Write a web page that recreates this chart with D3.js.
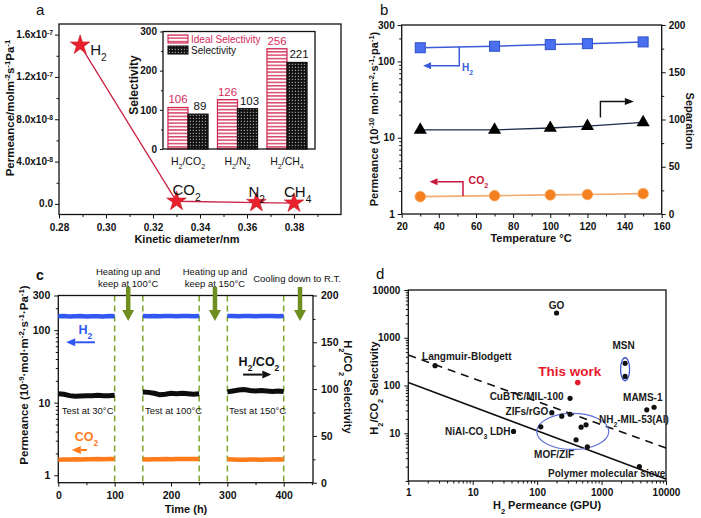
<!DOCTYPE html>
<html><head><meta charset="utf-8">
<script src="https://cdn.jsdelivr.net/npm/d3@7/dist/d3.min.js"></script>
<style>html,body{margin:0;padding:0;background:#fff;}svg{display:block;}</style>
</head><body>
<svg id="chart" width="701" height="518"></svg>
<script>
// ================= DATA =================
// (a) single gas permeance vs kinetic diameter
const aGas = ["H_{2}", "CO_{2}", "N_{2}", "CH_{4}"];
const aDiameter = [0.289, 0.33, 0.364, 0.38];
const aPermeance = [1.5e-7, 2.5e-9, 1.3e-9, 8e-10];
const aXTicks = [0.28, 0.30, 0.32, 0.34, 0.36, 0.38];
const aYTicks = [0, 4e-8, 8e-8, 1.2e-7, 1.6e-7];
const aYTickMant = ["0.0", "4.0x10", "8.0x10", "1.2x10", "1.6x10"];
const aYTickExp = ["", "-8", "-8", "-7", "-7"];
// (a) inset
const insetPairs = ["H_{2}/CO_{2}", "H_{2}/N_{2}", "H_{2}/CH_{4}"];
const insetSeries = ["Ideal Selectivity", "Selectivity"];
const insetIdeal = [106, 126, 256];
const insetMeasured = [89, 103, 221];
const insetTicks = [0, 100, 200, 300];
// (b) temperature dependence
const bTemp = [30, 70, 100, 120, 150];
const bH2 = [151, 158, 166, 171, 180];
const bCO2 = [1.69, 1.74, 1.78, 1.80, 1.85];
const bSep = [89, 89, 91, 93, 97];
const bXTicks = [20, 40, 60, 80, 100, 120, 140, 160];
const bYTicks = [1, 10, 100, 300];
const bY2Ticks = [0, 50, 100, 150, 200];
// (c) long-term stability
const cTime = [
  [0, 10, 20, 30, 40, 50, 60, 70, 80, 90, 100],
  [150, 160, 170, 180, 190, 200, 210, 220, 230, 240, 250],
  [300, 310, 320, 330, 340, 350, 360, 370, 380, 390, 400]];
const cH2 = [
  [155, 156, 154, 155, 156, 154, 155, 155, 154, 156, 155],
  [156, 155, 157, 155, 156, 156, 155, 157, 156, 155, 156],
  [156, 157, 155, 156, 157, 155, 156, 156, 157, 155, 156]];
const cSel = [
  [95, 94.5, 93, 92.3, 92.6, 93, 93, 93.5, 93, 93, 93.5],
  [97, 96.5, 95.5, 94, 94.5, 95.5, 95, 95.5, 95, 94.5, 95],
  [97, 98, 99, 99.5, 98.5, 98, 98.5, 98, 97.5, 98, 97.5]];
const cCO2 = [
  [1.64, 1.65, 1.65, 1.66, 1.65, 1.66, 1.66, 1.67, 1.66, 1.67, 1.68],
  [1.66, 1.65, 1.66, 1.66, 1.67, 1.66, 1.67, 1.67, 1.68, 1.67, 1.68],
  [1.66, 1.65, 1.64, 1.64, 1.65, 1.65, 1.64, 1.65, 1.65, 1.66, 1.65]];
const cXTicks = [0, 100, 200, 300, 400];
const cYTicks = [1, 10, 100, 300];
const cY2Ticks = [0, 50, 100, 150, 200];
const cBreaks = [100, 150, 250, 300, 400];
const cStepTimes = [124, 278, 429];
const cStepNotes = [["Heating up and", "keep at 100°C"], ["Heating up and", "keep at 150°C"], ["Cooling down to R.T."]];
const cTestStart = [6, 154, 303];
const cTestNotes = ["Test at 30°C", "Test at 100°C", "Test at 150°C"];
// (d) comparison with literature
const dPerm = [200, 2.6, 324, 169, 2317, 2317, 5030, 6530, 43, 3865, 114, 241, 324, 481, 574, 402, 602];
const dSel = [3300, 260, 54, 27, 292, 155, 31, 35, 10.9, 2.0, 13.6, 22.8, 25, 13.4, 15, 7.3, 5.2];
const dThisPerm = [427];
const dThisSel = [115];
const dUpperPerm = [1, 10000], dUpperSel = [437, 4.9];
const dLowerPerm = [1, 10000], dLowerSel = [115, 1.1];
const dTicks = [1, 10, 100, 1000, 10000];
const dYTicks = [10, 100, 1000, 10000];

// ================= HELPERS =================
const FF = '"Liberation Sans", Arial, Helvetica, sans-serif';
const svg = d3.select("#chart").attr("font-family", FF);
const defs = svg.append("defs");

function rich(t, s) {
  const re = /([_^])\{([^}]*)\}/g; let last = 0, m;
  while ((m = re.exec(s))) {
    if (m.index > last) t.append("tspan").text(s.slice(last, m.index));
    t.append("tspan").attr("baseline-shift", m[1] === "_" ? "sub" : "super").attr("font-size", "68%").text(m[2]);
    last = re.lastIndex;
  }
  if (last < s.length) t.append("tspan").text(s.slice(last));
  return t;
}
function txt(g, x, y, s, o = {}) {
  const t = g.append("text").attr("x", x).attr("y", y)
    .attr("font-size", o.fs || 10).attr("font-weight", o.bold ? "bold" : "normal")
    .attr("fill", o.fill || "#111").attr("text-anchor", o.anchor || "start");
  if (o.rot) t.attr("transform", `rotate(${o.rot},${x},${y})`);
  return rich(t, s);
}
function axis(g, orient, scale, values, o = {}) {
  const gen = ({ left: d3.axisLeft, right: d3.axisRight, bottom: d3.axisBottom })[orient](scale)
    .tickValues(values).tickSizeInner(o.size ?? 4).tickSizeOuter(0).tickPadding(o.pad ?? 3)
    .tickFormat(o.fmt || (() => ""));
  const a = g.append("g").call(gen);
  if (o.tr) a.attr("transform", o.tr);
  a.attr("font-family", FF).attr("font-size", o.fs || 10).attr("font-weight", "bold");
  a.select(".domain").remove();
  a.selectAll(".tick line").attr("stroke", "#111").attr("stroke-width", 1);
  a.selectAll(".tick text").attr("fill", "#111");
  return a;
}
function frame(g, xs, ys) {
  const [x0, x1] = xs.range(), [y0, y1] = ys.range();
  g.append("rect").attr("x", Math.min(x0, x1)).attr("y", Math.min(y0, y1))
    .attr("width", Math.abs(x1 - x0)).attr("height", Math.abs(y1 - y0))
    .attr("fill", "none").attr("stroke", "#111").attr("stroke-width", 1.3);
}
function arrow(g, pts, color, w, hl, hw) {
  const n = pts.length, [xa, ya] = pts[n - 2], [xb, yb] = pts[n - 1];
  const ang = Math.atan2(yb - ya, xb - xa);
  const bx = xb - hl * Math.cos(ang), by = yb - hl * Math.sin(ang);
  const shaft = pts.slice(0, n - 1).concat([[bx, by]]);
  g.append("path").attr("d", d3.line()(shaft)).attr("fill", "none").attr("stroke", color).attr("stroke-width", w);
  const px = -Math.sin(ang) * hw / 2, py = Math.cos(ang) * hw / 2;
  g.append("path").attr("d", `M${xb},${yb}L${bx + px},${by + py}L${bx - px},${by - py}Z`).attr("fill", color);
}
const logMinor = (s, major) => s.ticks().filter(v => !major.some(m => Math.abs(m - v) < 1e-9 * m));

// ================= PANEL A =================
const A = svg.append("g");
const aX = d3.scaleLinear().domain([0.28, 0.40]).range([59, 341]);
const aY = d3.scaleLinear().domain([-1e-8, 1.7e-7]).range([214.5, 24]);
txt(A, 36, 15, "a", { fs: 15 });
axis(A, "bottom", aX, aXTicks, { tr: `translate(0,${aY.range()[0]})`, pad: 5, fmt: d3.format(".2f") });
axis(A, "bottom", aX, aXTicks.map(v => v + 0.01), { tr: `translate(0,${aY.range()[0]})`, size: 2.5 });
axis(A, "left", aY, aYTicks, { tr: `translate(${aX.range()[0]},0)` });
axis(A, "left", aY, aYTicks.slice(0, -1).map(v => v + 2e-8), { tr: `translate(${aX.range()[0]},0)`, size: 2.5 });
aYTicks.forEach((v, i) => txt(A, aX.range()[0] - 6, aY(v) + 3.5, aYTickMant[i] + (aYTickExp[i] ? "^{" + aYTickExp[i] + "}" : ""), { fs: 10, bold: true, anchor: "end" }));
frame(A, aX, aY);
txt(A, 187, 243, "Kinetic diameter/nm", { fs: 11, bold: true, anchor: "middle" });
txt(A, 14, 108, "Permeance/molm^{-2}s^{-1}Pa^{-1}", { fs: 11.5, bold: true, anchor: "middle", rot: -90 });
const aPts = aDiameter.map((d, i) => [aX(d), aY(aPermeance[i])]);
A.append("path").attr("d", d3.line()(aPts)).attr("fill", "none").attr("stroke", "#cc2244").attr("stroke-width", 1.3);
A.selectAll(".star").data(aPts).join("path").attr("transform", d => `translate(${d[0]},${d[1]})`)
  .attr("d", d3.symbol(d3.symbolStar, 120)).attr("fill", "#e8212d").attr("stroke", "#c81e2e").attr("stroke-width", 0.6);
const aLabOff = [[10, 10], [-4, -6], [-8, -6], [-10, -6]];
aPts.forEach((p, i) => txt(A, p[0] + aLabOff[i][0], p[1] + aLabOff[i][1], aGas[i], { fs: 15 }));

// inset
const iX = d3.scaleBand().domain(insetPairs).range([163, 312]).paddingInner(0.19).paddingOuter(0.1);
const iSub = d3.scaleBand().domain(insetSeries).range([0, iX.bandwidth()]);
const iY = d3.scaleLinear().domain([0, 300]).range([149, 31.5]);
A.append("rect").attr("x", 163).attr("y", 31.5).attr("width", 152).attr("height", 117.5).attr("fill", "#fff");
const pS = defs.append("pattern").attr("id", "stripes").attr("patternUnits", "userSpaceOnUse").attr("width", 6).attr("height", 3.4);
pS.append("rect").attr("width", 6).attr("height", 3.4).attr("fill", "#fff");
pS.append("rect").attr("y", 0).attr("width", 6).attr("height", 1.5).attr("fill", "#d8476a");
const pC = defs.append("pattern").attr("id", "checks").attr("patternUnits", "userSpaceOnUse").attr("width", 3).attr("height", 3);
pC.append("rect").attr("width", 3).attr("height", 3).attr("fill", "#111");
pC.append("rect").attr("x", 0.8).attr("y", 0.8).attr("width", 1.1).attr("height", 1.1).attr("fill", "#bbb");
const fills = { "Ideal Selectivity": "url(#stripes)", "Selectivity": "url(#checks)" };
const strokes = { "Ideal Selectivity": "#d0254f", "Selectivity": "#111" };
const insetRows = insetPairs.flatMap((p, i) => [
  { p, s: insetSeries[0], v: insetIdeal[i] }, { p, s: insetSeries[1], v: insetMeasured[i] }]);
A.selectAll(".ibar").data(insetRows).join("rect")
  .attr("x", d => iX(d.p) + iSub(d.s)).attr("width", iSub.bandwidth())
  .attr("y", d => iY(d.v)).attr("height", d => iY(0) - iY(d.v))
  .attr("fill", d => fills[d.s]).attr("stroke", d => strokes[d.s]).attr("stroke-width", 1.2);
insetRows.forEach(d => txt(A, iX(d.p) + iSub(d.s) + iSub.bandwidth() / 2 + (d.s === "Selectivity" ? 2 : 0), iY(d.v) - 4, String(d.v),
  { fs: 11.5, anchor: "middle", fill: d.s === "Selectivity" ? "#111" : "#d42a5a" }));
axis(A, "left", iY, insetTicks, { tr: "translate(163,0)", size: 3, pad: 3, fmt: d3.format("d"), fs: 10 });
axis(A, "left", iY, insetTicks.slice(0, -1).map(v => v + 50), { tr: "translate(163,0)", size: 2 });
A.append("rect").attr("x", 163).attr("y", 31.5).attr("width", 152).attr("height", 117.5).attr("fill", "none").attr("stroke", "#111").attr("stroke-width", 1.3);
insetPairs.forEach(p => txt(A, iX(p) + iX.bandwidth() / 2, 165, p, { fs: 10.5, anchor: "middle" }));
txt(A, 138, 85, "Selectivity", { fs: 12, bold: true, anchor: "middle", rot: -90 });
insetSeries.forEach((s, i) => {
  A.append("rect").attr("x", 168).attr("y", 35 + i * 11).attr("width", 20).attr("height", 8)
    .attr("fill", fills[s]).attr("stroke", strokes[s]).attr("stroke-width", 1.1);
  txt(A, 191, 42.5 + i * 11, s, { fs: 10, fill: i === 0 ? "#d42a5a" : "#111" });
});

// ================= PANEL B =================
const B = svg.append("g");
const bX = d3.scaleLinear().domain([20, 160]).range([401.7, 661.7]);
const bY = d3.scaleLog().domain([1, 300]).range([214, 25]);
const bY2 = d3.scaleLinear().domain([0, 200]).range([214, 25]);
txt(B, 380, 15, "b", { fs: 15 });
axis(B, "bottom", bX, bXTicks, { tr: "translate(0,214)", pad: 5, fmt: d3.format("d") });
axis(B, "bottom", bX, bXTicks.slice(0, -1).map(v => v + 10), { tr: "translate(0,214)", size: 2.5 });
axis(B, "left", bY, bYTicks, { tr: "translate(401.7,0)", pad: 3, fmt: d3.format("d") });
axis(B, "left", bY, logMinor(bY, bYTicks), { tr: "translate(401.7,0)", size: 2.5 });
axis(B, "right", bY2, bY2Ticks, { tr: "translate(661.7,0)", pad: 3, fmt: d3.format("d") });
axis(B, "right", bY2, bY2Ticks.slice(0, -1).map(v => v + 25), { tr: "translate(661.7,0)", size: 2.5 });
frame(B, bX, bY);
txt(B, 531, 242, "Temperature °C", { fs: 11, bold: true, anchor: "middle" });
txt(B, 378, 119, "Permeance (10^{-10} mol·m^{-2}·s^{-1}·pa^{-1})", { fs: 11, bold: true, anchor: "middle", rot: -90 });
txt(B, 686, 121, "Separation", { fs: 11, bold: true, anchor: "middle", rot: 90 });
const bLine = (ys, arr) => d3.line()(bTemp.map((t, i) => [bX(t), ys(arr[i])]));
B.append("path").attr("d", bLine(bY, bH2)).attr("fill", "none").attr("stroke", "#3a5bd8").attr("stroke-width", 1.5);
B.append("path").attr("d", bLine(bY2, bSep)).attr("fill", "none").attr("stroke", "#1d2a4a").attr("stroke-width", 1.3);
B.append("path").attr("d", bLine(bY, bCO2)).attr("fill", "none").attr("stroke", "#f2ab70").attr("stroke-width", 1.6);
B.selectAll(".sq").data(bTemp).join("rect").attr("x", (t) => bX(t) - 5).attr("y", (t, i) => bY(bH2[i]) - 5)
  .attr("width", 10).attr("height", 10).attr("fill", "#4a6ff0").attr("stroke", "#2f4fc8").attr("stroke-width", 1);
B.selectAll(".tri").data(bTemp).join("path").attr("transform", (t, i) => `translate(${bX(t)},${bY2(bSep[i])})`)
  .attr("d", d3.symbol(d3.symbolTriangle, 75)).attr("fill", "#000");
B.selectAll(".cir").data(bTemp).join("circle").attr("cx", t => bX(t)).attr("cy", (t, i) => bY(bCO2[i]))
  .attr("r", 5.3).attr("fill", "#f5801f").attr("stroke", "#f9a860").attr("stroke-width", 0.8);
arrow(B, [[bX(51), bY(156)], [bX(51), bY(88)], [bX(31.5), bY(88)]], "#3a5bd8", 1.5, 8, 7);
txt(B, bX(52.5), bY(74), "H_{2}", { fs: 10, bold: true, fill: "#3a5bd8" });
arrow(B, [[bX(127), bY2(102)], [bX(127), bY2(119)], [bX(145), bY2(119)]], "#111", 1.4, 9, 7);
arrow(B, [[bX(53), bY(1.72)], [bX(53), bY(2.65)], [bX(35), bY(2.65)]], "#c8163c", 1.5, 8, 7);
txt(B, bX(56), bY(2.45), "CO_{2}", { fs: 10.5, bold: true, fill: "#c8163c" });

// ================= PANEL C =================
const C = svg.append("g");
const cX = d3.scaleLinear().domain([0, 452]).range([58.3, 313]);
const cY = d3.scaleLog().domain([0.79, 300]).range([482.7, 295.5]);
const cY2 = d3.scaleLinear().domain([0, 200]).range([482.7, 295.5]);
txt(C, 36, 280, "c", { fs: 14, bold: true });
axis(C, "bottom", cX, cXTicks, { tr: "translate(0,482.7)", pad: 5, fmt: d3.format("d"), fs: 10.5 });
axis(C, "bottom", cX, cXTicks.map(v => v + 50), { tr: "translate(0,482.7)", size: 2.5 });
axis(C, "left", cY, cYTicks, { tr: "translate(58.3,0)", pad: 4, fmt: d3.format("d"), fs: 10.5 });
axis(C, "left", cY, logMinor(cY, cYTicks).filter(v => v >= 1), { tr: "translate(58.3,0)", size: 2.5 });
axis(C, "right", cY2, cY2Ticks, { tr: "translate(313,0)", pad: 4, fmt: d3.format("d"), fs: 10.5 });
axis(C, "right", cY2, cY2Ticks.slice(0, -1).map(v => v + 25), { tr: "translate(313,0)", size: 2.5 });
cBreaks.forEach(t => C.append("line").attr("x1", cX(t)).attr("x2", cX(t)).attr("y1", 295.5).attr("y2", 482.7)
  .attr("stroke", "#7fa52c").attr("stroke-width", 1.5).attr("stroke-dasharray", "6,4"));
frame(C, cX, cY);
const segLine = (ys, ts, vs) => d3.line()(ts.map((t, i) => [cX(t), ys(vs[i])]));
cTime.forEach((ts, k) => {
  C.append("path").attr("d", segLine(cY, ts, cH2[k])).attr("fill", "none").attr("stroke", "#3158f2").attr("stroke-width", 4.5);
  C.append("path").attr("d", segLine(cY2, ts, cSel[k])).attr("fill", "none").attr("stroke", "#0d0d0d").attr("stroke-width", 5);
  C.append("path").attr("d", segLine(cY, ts, cCO2[k])).attr("fill", "none").attr("stroke", "#ff7b1c").attr("stroke-width", 4.5);
});
cStepTimes.forEach(t => arrow(C, [[cX(t), 287], [cX(t), 321]], "#6e8f1f", 4.5, 11, 12));
cStepNotes.forEach((lines, i) => {
  const x = cX(cStepTimes[i]) + (i === 2 ? -3 : 0);
  lines.forEach((l, j) => txt(C, x, (lines.length === 1 ? 282 : 274.5) + j * 12, l, { fs: 9.5, anchor: "middle" }));
});
cTestNotes.forEach((s, i) => txt(C, cX(cTestStart[i]), 413.5, s, { fs: 9.5 }));
txt(C, 186, 513, "Time (h)", { fs: 11, bold: true, anchor: "middle" });
txt(C, 28, 375, "Permeance (10^{-9}·mol·m^{-2}·s^{-1}·Pa^{-1})", { fs: 11.5, bold: true, anchor: "middle", rot: -90 });
txt(C, 344, 387, "H_{2}/CO_{2} Selectivity", { fs: 11, bold: true, anchor: "middle", rot: 90 });
txt(C, cX(36), cY(88), "H_{2}", { fs: 12.5, bold: true, fill: "#3158f2" });
arrow(C, [[cX(65), cY(68)], [cX(14), cY(68)]], "#3158f2", 2, 9, 8);
txt(C, cX(29), cY(2.95), "CO_{2}", { fs: 12.5, bold: true, fill: "#ff7b1c" });
arrow(C, [[cX(51), cY(2.23)], [cX(24), cY(2.23)]], "#ff7b1c", 2, 9, 8);
txt(C, cX(320), cY2(125), "H_{2}/CO_{2}", { fs: 12.5, bold: true });
arrow(C, [[cX(328), cY2(115.5)], [cX(378), cY2(115.5)]], "#111", 2, 9, 8);

// ================= PANEL D =================
const D = svg.append("g");
const dX = d3.scaleLog().domain([1, 10000]).range([408.3, 666]);
const dY = d3.scaleLog().domain([1, 10000]).range([481, 290]);
txt(D, 376, 279, "d", { fs: 15 });
axis(D, "bottom", dX, dTicks, { tr: "translate(0,481)", pad: 4, fmt: d3.format("d") });
axis(D, "bottom", dX, logMinor(dX, dTicks), { tr: "translate(0,481)", size: 2.5 });
axis(D, "left", dY, dYTicks, { tr: "translate(408.3,0)", pad: 4, fmt: d3.format("d") });
axis(D, "left", dY, logMinor(dY, dYTicks), { tr: "translate(408.3,0)", size: 2.5 });
frame(D, dX, dY);
txt(D, 547, 509, "H_{2} Permeance (GPU)", { fs: 11, bold: true, anchor: "middle" });
txt(D, 378, 388, "H_{2}/CO_{2} Selectivity", { fs: 11, bold: true, anchor: "middle", rot: -90 });
D.append("path").attr("d", d3.line()(dUpperPerm.map((p, i) => [dX(p), dY(dUpperSel[i])])))
  .attr("fill", "none").attr("stroke", "#111").attr("stroke-width", 1.6).attr("stroke-dasharray", "8,6");
D.append("path").attr("d", d3.line()(dLowerPerm.map((p, i) => [dX(p), dY(dLowerSel[i])])))
  .attr("fill", "none").attr("stroke", "#111").attr("stroke-width", 1.6);
// annotation ellipses (data-anchored)
D.append("ellipse").attr("cx", dX(357)).attr("cy", dY(10.9)).attr("rx", 36).attr("ry", 18)
  .attr("fill", "none").attr("stroke", "#6070d8").attr("stroke-width", 1.2);
D.append("ellipse").attr("cx", dX(2317)).attr("cy", dY(219)).attr("rx", 4.5).attr("ry", 11.5)
  .attr("fill", "none").attr("stroke", "#3f55d0").attr("stroke-width", 1.3);
D.selectAll(".pt").data(dPerm).join("circle").attr("cx", p => dX(p)).attr("cy", (p, i) => dY(dSel[i]))
  .attr("r", 2.6).attr("fill", "#111");
D.selectAll(".tw").data(dThisPerm).join("circle").attr("cx", p => dX(p)).attr("cy", (p, i) => dY(dThisSel[i]))
  .attr("r", 2.8).attr("fill", "#e8192c");
const dLabels = [
  ["GO", 0, 0, -4, "middle"], ["Langmuir-Blodgett", 1, -13, -6, "start"], ["CuBTC/MIL-100", 2, -6.5, 1.5, "end"],
  ["ZIFs/rGO", 3, -3.5, 2.5, "end"], ["MSN", 4, -1.5, -14, "middle"], ["MAMS-1", 6, -4, -8.5, "middle"],
  ["NH_{2}-MIL-53(Al)", 14, 13, -2, "start"], ["NiAl-CO_{3} LDH", 8, -3, 3.5, "end"],
  ["MOF/ZIF", 15, -22, 18, "middle"], ["Polymer molecular sieve", 9, 26, 10, "end"]];
dLabels.forEach(([s, k, dx, dy, an]) => txt(D, dX(dPerm[k]) + dx, dY(dSel[k]) + dy, s, { fs: 10, bold: true, anchor: an, fill: "#1a1a1a" }));
txt(D, dX(dThisPerm[0]) - 8, dY(dThisSel[0]) - 7, "This work", { fs: 13.5, bold: true, anchor: "middle", fill: "#e8192c" });
</script></body></html>
